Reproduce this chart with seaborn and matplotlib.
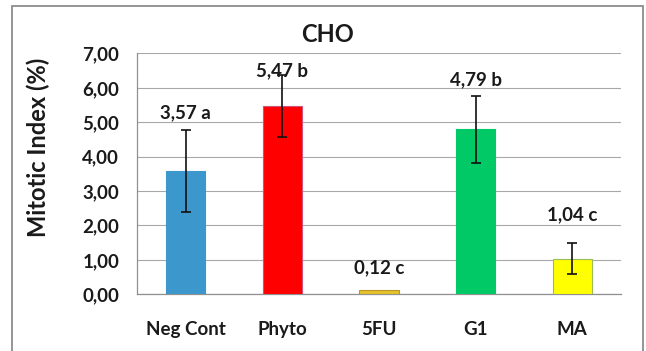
import matplotlib
matplotlib.use("Agg")
import matplotlib.pyplot as plt
import matplotlib.patches as mpatches
from matplotlib.ticker import FuncFormatter, FixedLocator
import seaborn as sns
import pandas as pd

# Mitotic index data (CHO cells)
groups = ["Neg Cont", "Phyto", "5FU", "G1", "MA"]
means = [3.57, 5.47, 0.12, 4.79, 1.04]
errors = [1.19, 0.89, 0.0, 0.98, 0.46]
letters = ["a", "b", "c", "b", "c"]

fills = ["#3B97CC", "#FF0000", "#E6C22C", "#00C965", "#FFFF00"]
edges = ["#3B97CC", "#CC5577", "#B8962A", "#00C965", "#9BBB59"]
label_lift = [12.7, 3.2, 16, 11.2, 20]  # points above error bar / bar top

df = pd.DataFrame({"group": groups, "mean": means})

sns.set_style("white")
plt.rcParams["font.family"] = ["Lato", "DejaVu Sans"]
plt.rcParams["font.weight"] = "bold"

fig = plt.figure(figsize=(6.46, 3.51), dpi=100)
ax = fig.add_axes([0.2126, 0.1615, 0.7482, 0.6865])

sns.barplot(data=df, x="group", y="mean", hue="group", palette=fills,
            saturation=1, legend=False, width=0.41, ax=ax, zorder=3)

centers = []
for p, ec in zip(ax.patches, edges):
    p.set_edgecolor(ec)
    p.set_linewidth(0.8)
    centers.append(p.get_x() + p.get_width() / 2)

eb = [(x, m, e) for x, m, e in zip(centers, means, errors) if e > 0]
ax.errorbar([t[0] for t in eb], [t[1] for t in eb], yerr=[t[2] for t in eb],
            fmt="none", ecolor="#111111", elinewidth=1.2, capsize=3.8,
            capthick=1.2, zorder=4)

for x, m, e, lt, lift in zip(centers, means, errors, letters, label_lift):
    txt = f"{m:.2f}".replace(".", ",") + " " + lt
    ax.annotate(txt, (x, m + e), xytext=(0, lift), textcoords="offset points",
                ha="center", va="center", fontsize=13.5, fontweight="bold",
                color="#1a1a1a", zorder=5)

ax.set_ylim(0, 7)
ax.set_xlim(-0.5, 4.5)
ax.set_yticks(range(0, 8))
ax.yaxis.set_major_formatter(FuncFormatter(lambda v, _: f"{v:.2f}".replace(".", ",")))
ax.grid(axis="y", color="#A8A8A8", linewidth=0.8, zorder=0)
ax.grid(axis="x", visible=False)

for s in ["top", "right"]:
    ax.spines[s].set_visible(False)
for s in ["left", "bottom"]:
    ax.spines[s].set_color("#909090")
    ax.spines[s].set_linewidth(0.9)

ax.xaxis.set_minor_locator(FixedLocator([-0.5, 0.5, 1.5, 2.5, 3.5, 4.5]))
ax.tick_params(axis="x", which="major", length=0, pad=19, labelsize=13.5,
               colors="#1a1a1a")
ax.tick_params(axis="x", which="minor", length=5, width=0.9, color="#909090",
               direction="out")
ax.tick_params(axis="y", length=5, width=0.9, color="#909090", direction="out",
               pad=8, labelsize=13.5, labelcolor="#1a1a1a")

ax.set_xlabel("")
ax.set_ylabel("Mitotic Index (%)", fontsize=17, fontweight="bold", color="#1a1a1a")
ax.yaxis.set_label_coords(-0.18, 0.61)

fig.text(328 / 646, 1 - 35 / 351, "CHO", ha="center", va="center",
         fontsize=17, fontweight="bold", color="#1a1a1a")

border = mpatches.Rectangle((11.7 / 646, -0.05), (643 - 11.7) / 646, 1.05 - 6 / 351,
                            transform=fig.transFigure, fill=False,
                            edgecolor="#8C8C8C", linewidth=1.3)
fig.patches.append(border)

fig.savefig("out.png", dpi=100)
